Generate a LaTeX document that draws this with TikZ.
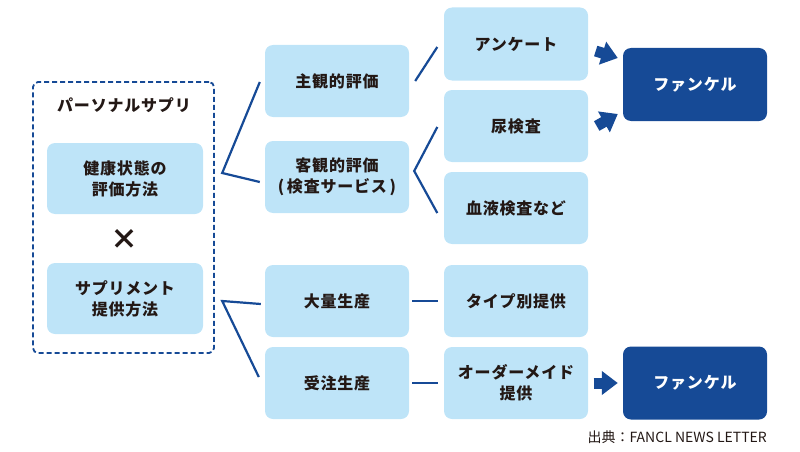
\documentclass[tikz,border=0pt]{standalone}
\usepackage{fontspec}
\setmainfont{Noto Sans CJK JP}[LetterSpace=5]
\newfontfamily\srcfont{Noto Sans CJK JP}
\usetikzlibrary{arrows.meta,calc}
\definecolor{lb}{RGB}{190,228,248}
\definecolor{db}{RGB}{22,74,150}
\definecolor{tx}{RGB}{35,24,21}
\begin{document}
\begin{tikzpicture}[x=1pt,y=-1pt,
  lbox/.style={fill=lb, rounded corners=8pt, minimum width=144pt, minimum height=72pt, inner sep=0pt, align=center, text=tx, font=\fontsize{16}{21}\selectfont\bfseries},
  dbox/.style={fill=db, rounded corners=8pt, minimum width=144pt, minimum height=73pt, inner sep=0pt, align=center, text=white, font=\fontsize{16}{21}\selectfont\bfseries},
  conn/.style={draw=db, line width=2.2pt},
  barrow/.style={draw=db, line width=11pt, -{Triangle[length=16pt,width=23pt]}},
  lbl/.style={text=tx, font=\fontsize{16}{21}\selectfont\bfseries}]
\path[use as bounding box] (0,0) rectangle (800,452);
% persona box
\node[draw=db, dash pattern=on 5pt off 3pt, line width=1.8pt, rounded corners=5pt, minimum width=181pt, minimum height=271pt, inner sep=0pt] (pers) at (123.5,217.5) {};
\node[lbl] (title) at (124,105) {パーソナルサプリ};
\node[lbox, minimum width=156pt, minimum height=71pt] (kenko) at (125,178.5) {健康状態の\\評価方法};
\node[lbl, font=\fontsize{28}{28}\selectfont\bfseries] (times) at (124,239) {×};
\node[lbox, minimum width=156pt, minimum height=71pt] (supp) at (125,298.5) {サプリメント\\提供方法};
% column 2
\node[lbox] (shukan) at (337,81) {主観的評価};
\node[lbox] (kyakkan) at (337,177) {客観的評価\\(\,検査サービス\,)};
\node[lbox] (tairyo) at (337,301) {大量生産};
\node[lbox] (juchu) at (337,383) {受注生産};
% column 3
\node[lbox, minimum height=73pt] (ank) at (516,44) {アンケート};
\node[lbox] (nyo) at (516,126) {尿検査};
\node[lbox] (ketsu) at (516,208) {血液検査など};
\node[lbox] (type) at (516,301) {タイプ別提供};
\node[lbox] (order) at (516,383) {オーダーメイド\\提供};
% column 4
\node[dbox] (fan1) at (695,84.5) {ファンケル};
\node[dbox] (fan2) at (695,383) {ファンケル};
% connectors
\coordinate (v1) at ($(kenko.east)+(19,-5.5)$);
\draw[conn] ($(shukan.west)+(-5,1)$) -- (v1) -- ($(kyakkan.west)+(-5,5)$);
\coordinate (v2) at ($(supp.east)+(19,2.5)$);
\draw[conn] ($(tairyo.west)+(-4,3)$) -- (v2) -- ($(juchu.west)+(-6,-6)$);
\draw[conn] ($(shukan.east)+(6,0)$) -- ($(ank.west)+(-6.5,3)$);
\coordinate (v3) at ($(kyakkan.east)+(5,-6)$);
\draw[conn] ($(nyo.west)+(-6.5,1)$) -- (v3) -- ($(ketsu.west)+(-6.5,5)$);
\draw[conn] ($(tairyo.east)+(3,0)$) -- ($(type.west)+(-5.5,0)$);
\draw[conn] ($(juchu.east)+(3,0)$) -- ($(order.west)+(-5.5,0)$);
% block arrows
\coordinate (a1s) at ($(ank.east)+(7.5,7)$);
\coordinate (a1e) at ($(fan1.west)+(-5,-26.5)$);
\draw[barrow] (a1s) -- (a1e);
\coordinate (a2s) at ($(nyo.east)+(8.5,0)$);
\coordinate (a2e) at ($(fan1.west)+(-5,29.5)$);
\draw[barrow] (a2s) -- (a2e);
\coordinate (a3s) at ($(order.east)+(5.5,0)$);
\coordinate (a3e) at ($(fan2.west)+(-5,0)$);
\draw[barrow] (a3s) -- (a3e);
% source
\node[anchor=base east, inner sep=0pt, text=tx, font=\srcfont\fontsize{14}{16}\selectfont] (src) at (767,442) {出典：FANCL NEWS LETTER};
\end{tikzpicture}
\end{document}
